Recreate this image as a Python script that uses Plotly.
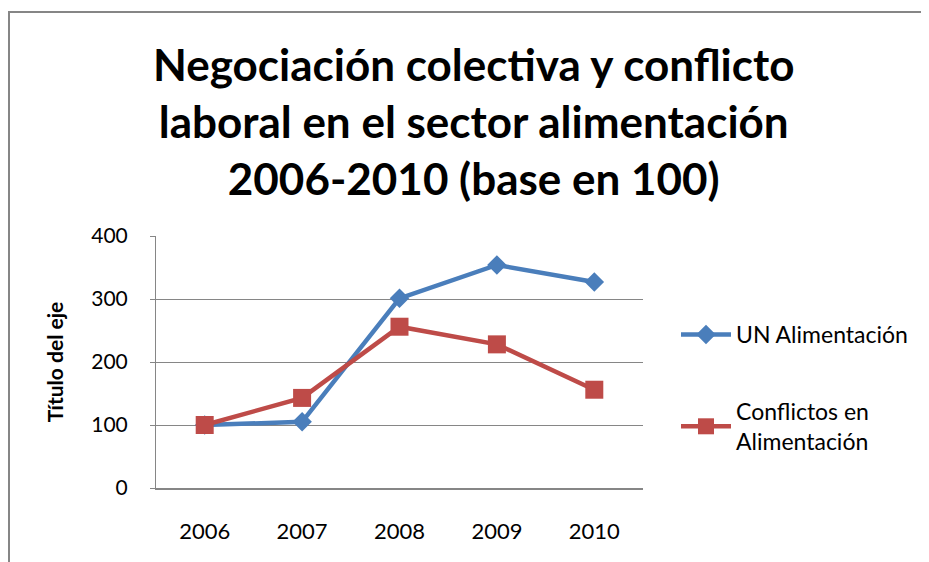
import plotly.graph_objects as go

years = ["2006", "2007", "2008", "2009", "2010"]
un_alimentacion = [100, 105, 301, 354, 327]
conflictos = [100, 143, 256, 228, 156]
y_ticks = [0, 100, 200, 300, 400]

title_text = "Negociación colectiva y conflicto<br>laboral en el sector alimentación<br>2006-2010 (base en 100)"

# page has an 8px body margin; figure coordinates = page coordinates - 8
OFF = 8
W, H = 929 - OFF, 562 - OFF
L, T = 156 - OFF, 236 - OFF
PW, PH = 487, 252
R, B = W - L - PW, H - T - PH


def px(x):
    return (x - OFF - L) / PW


def py(y):
    return (T + PH - (y - OFF)) / PH


fig = go.Figure()
fig.add_trace(go.Scatter(
    x=years, y=un_alimentacion, name="UN Alimentación", mode="lines+markers",
    line=dict(color="#4A7EBB", width=4.5),
    marker=dict(symbol="diamond", size=15, color="#4A7EBB"),
    legendgroup="a",
))
fig.add_trace(go.Scatter(
    x=years, y=conflictos, name="Conflictos en<br>Alimentación", mode="lines+markers",
    line=dict(color="#BE4B48", width=4.5),
    marker=dict(symbol="square", size=18, color="#BE4B48"),
    legendgroup="b",
))

fig.update_layout(
    width=W, height=H,
    margin=dict(l=L, r=R, t=T, b=B, autoexpand=False),
    paper_bgcolor="white", plot_bgcolor="white",
    font=dict(family="Lato, sans-serif", color="#000000"),
    showlegend=True,
    legend=dict(x=px(676), xanchor="left", y=py(313), yanchor="top",
                font=dict(family="Lato, sans-serif", size=23, color="#000000"),
                itemwidth=50, tracegroupgap=44, bgcolor="rgba(0,0,0,0)"),
    xaxis=dict(type="category", showgrid=False, showline=True, linecolor="#868686", linewidth=2,
               ticks="", tickfont=dict(size=22, family="Lato, sans-serif"),
               ticklabelstandoff=23, range=[-0.5, 4.5], automargin=False),
    yaxis=dict(range=[0, 400], tickvals=y_ticks, showgrid=True, gridcolor="#868686", gridwidth=1,
               showline=True, linecolor="#868686", linewidth=1, ticks="outside", ticklen=5,
               tickcolor="#868686", tickfont=dict(size=21, family="Lato, sans-serif"),
               ticklabelstandoff=18, zeroline=False, automargin=False,
               title=dict(text="Título del eje", standoff=21,
                          font=dict(size=21, family="Lato, sans-serif", weight="bold"))),
    annotations=[dict(text=title_text, xref="paper", yref="paper",
                      x=px(473.5), y=py(121), xanchor="center", yanchor="middle",
                      showarrow=False, align="center",
                      font=dict(family="Lato, sans-serif", size=44, color="#000000", weight="bold"))],
    shapes=[dict(type="rect", xref="paper", yref="paper",
                 x0=px(9), x1=px(960), y0=py(600), y1=py(12),
                 line=dict(color="#868686", width=2), fillcolor="rgba(0,0,0,0)", layer="below")],
)

fig.write_html("out.html")
